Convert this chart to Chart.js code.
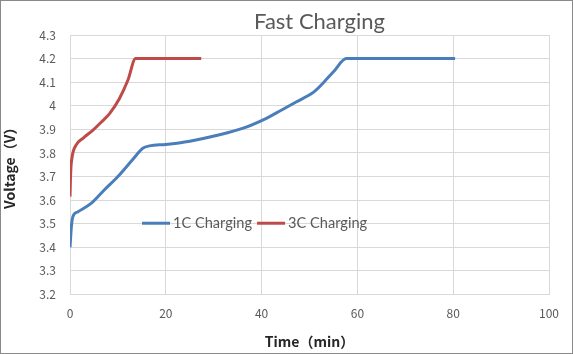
<!DOCTYPE html>
<html>
<head>
<meta charset="utf-8">
<script src="https://cdn.jsdelivr.net/npm/chart.js@4/dist/chart.umd.min.js"></script>
<style>
  html, body { margin: 0; padding: 0; background: #fff; }
  #wrap {
    position: absolute; left: 0; top: 0;
    width: 573px; height: 354px;
    box-sizing: border-box;
    border: 1px solid #8a8a8a;
    background: #fff;
  }
</style>
</head>
<body>
<div id="wrap"><canvas id="chart" width="571" height="352"></canvas></div>
<script>
// values
const time1C = [0, 0.3, 0.6, 1.6, 4.4, 7, 10, 13, 15.2, 16.6, 20, 25, 31, 36, 41, 44, 47.3, 51, 53, 55, 57.7, 65, 80.4];
const volt1C = [3.40, 3.49, 3.53, 3.55, 3.586, 3.64, 3.70, 3.77, 3.82, 3.83, 3.836, 3.85, 3.876, 3.904, 3.947, 3.98, 4.017, 4.06, 4.10, 4.144, 4.20, 4.20, 4.20];

const time3C = [0, 0.15, 0.45, 1.3, 2.7, 4.8, 6.5, 8.3, 10.3, 12.1, 13.7, 20, 27.4];
const volt3C = [3.615, 3.72, 3.784, 3.834, 3.862, 3.897, 3.93, 3.968, 4.03, 4.109, 4.20, 4.20, 4.20];

const seriesNames = ['1C Charging', '3C Charging'];
const seriesColors = ['#4A7EBB', '#BE4B48'];
const chartTitle = 'Fast Charging';

const pts = (xs, ys) => xs.map((x, i) => ({ x: x, y: ys[i] }));

// title and legend drawn by hand so they sit where Excel put them
const excelBits = {
  id: 'excelBits',
  afterDatasetsDraw(chart) {
    const ctx = chart.ctx;
    const area = chart.chartArea;
    ctx.save();

    ctx.font = '22px Lato';
    ctx.fillStyle = '#595959';
    ctx.textAlign = 'center';
    ctx.textBaseline = 'alphabetic';
    ctx.fillText(chartTitle, (area.left + area.right) / 2 + 10, 28);

    let x = area.left + 72;
    const y = chart.scales.y.getPixelForValue(3.5) - 0.5;
    ctx.font = '14.6px Lato';
    ctx.textAlign = 'left';
    ctx.textBaseline = 'middle';
    chart.data.datasets.forEach(ds => {
      ctx.strokeStyle = ds.borderColor;
      ctx.lineWidth = 3;
      ctx.beginPath();
      ctx.moveTo(x, y);
      ctx.lineTo(x + 28, y);
      ctx.stroke();
      x += 31;
      ctx.fillStyle = '#595959';
      ctx.fillText(ds.label, x, y);
      x += ctx.measureText(ds.label).width + 5;
    });
    ctx.restore();
  }
};

new Chart(document.getElementById('chart'), {
  type: 'scatter',
  data: {
    datasets: [
      { label: seriesNames[0], data: pts(time1C, volt1C), borderColor: seriesColors[0], backgroundColor: seriesColors[0] },
      { label: seriesNames[1], data: pts(time3C, volt3C), borderColor: seriesColors[1], backgroundColor: seriesColors[1] }
    ]
  },
  options: {
    responsive: false,
    animation: false,
    showLine: true,
    layout: { padding: { left: 0, right: 23, top: 34, bottom: 3 } },
    elements: {
      point: { radius: 0, hoverRadius: 0 },
      line: { borderWidth: 3, cubicInterpolationMode: 'monotone', borderCapStyle: 'butt' }
    },
    plugins: {
      legend: { display: false },
      tooltip: { enabled: false },
      title: { display: false }
    },
    scales: {
      x: {
        type: 'linear',
        min: 0, max: 100,
        afterFit: s => { s.height = 55.5; },
        ticks: { stepSize: 20, color: '#595959', font: { family: 'Noto Sans CJK JP', size: 12 }, padding: 12 },
        grid: { color: '#d9d9d9', drawTicks: false },
        border: { color: '#d9d9d9' },
        title: {
          display: true,
          text: 'Time（min）',
          color: '#262626',
          font: { family: 'Noto Sans CJK JP', size: 14, weight: 'bold' },
          padding: { top: 9, bottom: 0 }
        }
      },
      y: {
        min: 3.2, max: 4.3,
        afterFit: s => { s.width = 69; },
        ticks: {
          stepSize: 0.1,
          color: '#595959',
          font: { family: 'Noto Sans CJK JP', size: 12 },
          padding: 14,
          callback: v => String(+v.toFixed(1))
        },
        grid: { color: '#d9d9d9', drawTicks: false },
        border: { color: '#d9d9d9' },
        title: {
          display: true,
          text: 'Voltage（V）',
          color: '#262626',
          font: { family: 'Noto Sans CJK JP', size: 14, weight: 'bold' },
          padding: { top: 0, bottom: 0 }
        }
      }
    }
  },
  plugins: [excelBits]
});
</script>
</body>
</html>
